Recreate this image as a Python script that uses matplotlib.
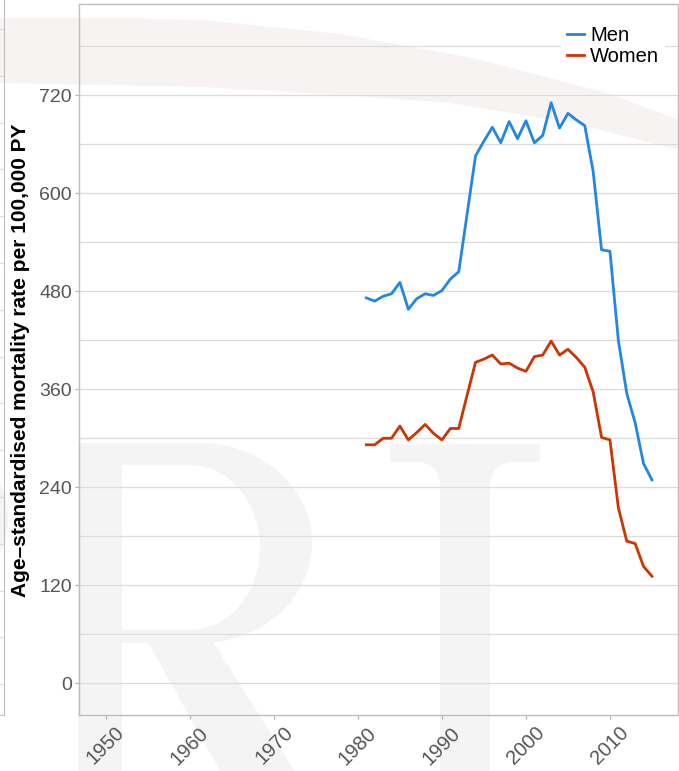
import numpy as np
import matplotlib.pyplot as plt
from matplotlib.patches import Polygon, Ellipse

plt.rcParams['font.family'] = ['Liberation Sans', 'DejaVu Sans']

# data
years = list(range(1981, 2016))
men = [472, 468, 474, 477, 491, 458, 471, 477, 475, 481,
       495, 504, 575, 646, 664, 681, 662, 688, 667, 689,
       662, 671, 711, 680, 698, 690, 683, 627, 531, 529,
       420, 355, 319, 269, 249]
women = [292, 292, 300, 300, 315, 298, 307, 317, 306, 298,
         312, 312, 353, 393, 397, 402, 391, 392, 386, 382,
         400, 402, 419, 402, 409, 399, 387, 357, 301, 298,
         215, 174, 171, 143, 131]
series = ['Men', 'Women']
colors = ['#2186e6', '#cc3402']
xticks = [1950, 1960, 1970, 1980, 1990, 2000, 2010]
yticks = [0, 120, 240, 360, 480, 600, 720]
ylabel = 'Age\u2013standardised mortality rate per 100,000 PY'

W, H = 679, 771
fig = plt.figure(figsize=(W / 100, H / 100), dpi=100)


def fpx(pts):
    # pixel coords (top-left origin) -> figure fraction
    return [(x / W, 1 - y / H) for x, y in pts]


def shape(pts, fc, z=-10):
    fig.patches.append(Polygon(fpx(pts), closed=True, transform=fig.transFigure,
                               fc=fc, ec='none', zorder=z))


def arc(cx, cy, rx, ry, a0, a1, n=40):
    t = np.radians(np.linspace(a0, a1, n))
    return list(zip(cx + rx * np.cos(t), cy - ry * np.sin(t)))


# background watermark: pink arc band
upper = [(0, 18), (130, 18), (200, 20), (340, 34), (473, 58), (607, 93), (679, 120)]
lower = [(679, 150), (573, 123), (450, 103), (340, 95), (200, 87), (0, 83)]
shape(upper + lower, '#f7f3f3')

# watermark letters "RT"
wm = '#f3f4f3'
shape([(78, 443), (122, 443), (122, 780), (78, 780)], wm)
shape([(100, 443), (200, 443)] + arc(200, 543, 112, 100, 90, -90) + [(100, 643)], wm)
shape([(122, 465), (190, 465)] + arc(190, 547.5, 70, 82.5, 90, -90) + [(122, 630)], 'white', -9)
shape([(143, 633), (212, 640), (300, 780), (225, 780)], wm, -8)
shape([(390, 444), (540, 444), (540, 462), (390, 462)], wm)
shape([(440, 462), (490, 462), (490, 780), (440, 780)], wm)
shape([(440, 462)] + arc(417, 484, 23, 22, 90, 0, 20), wm)
shape([(490, 462)] + arc(513, 484, 23, 22, 90, 180, 20), wm)
fig.patches.append(Ellipse((-60 / W, 1 - 518 / H), 136 / W, 150 / H,
                           transform=fig.transFigure, fc=wm, ec='none', zorder=-10))
fig.patches.append(Ellipse((-60 / W, 1 - 518 / H), 116 / W, 120 / H,
                           transform=fig.transFigure, fc='white', ec='none', zorder=-9))

spine_c = '#bdbdbd'
grid_c = '#dcdcdc'

# neighbouring panel, cut off at the left edge
ax0 = fig.add_axes([-60 / W, 1 - 715 / H, 64 / W, 730 / H])
ax0.patch.set_alpha(0)
ax0.set_ylim(715, -15)
ax0.set_xlim(0, 1)
for k in range(15):
    ax0.axhline(29 + 46.8 * k, color=grid_c, lw=0.9)
for s in ['top', 'left']:
    ax0.spines[s].set_visible(False)
for s in ['right', 'bottom']:
    ax0.spines[s].set_color(spine_c)
ax0.set_xticks([])
ax0.set_yticks([])

# main panel
ax = fig.add_axes([79 / W, 1 - 715 / H, 599 / W, 711 / H])
ax.patch.set_alpha(0)
for name, vals, c in zip(series, [men, women], colors):
    ax.plot(years, vals, color=c, lw=2.0, label=name)

ax.set_xlim(1946.8, 2018.1)
ax.set_ylim(-39, 832)
ax.set_xticks(xticks)
ax.set_xticklabels([str(v) for v in xticks], rotation=45, ha='center', va='top')
ax.set_yticks(yticks)
ax.set_yticks(np.arange(60, 840, 120), minor=True)
ax.grid(axis='y', which='both', color=grid_c, lw=0.9)
ax.set_axisbelow(True)
ax.tick_params(axis='both', which='major', colors='#b0b0b0', labelcolor='#555555',
               labelsize=14, length=3, width=0.8)
ax.tick_params(axis='x', labelsize=14.5, pad=3)
ax.tick_params(axis='y', pad=2)
ax.tick_params(which='minor', length=0)
for s in ax.spines.values():
    s.set_color(spine_c)
    s.set_linewidth(1)

fig.text(21 / W, 1 - 360 / H, ylabel, rotation=90, ha='center', va='center',
         fontsize=15, fontweight='bold', color='black')

leg = ax.legend(loc='upper left', bbox_to_anchor=(561 / W, 1 - 20 / H),
                bbox_transform=fig.transFigure, frameon=True, fontsize=14.5,
                handlelength=0.85, handletextpad=0.3, labelspacing=0.12,
                borderpad=0.3, borderaxespad=0, fancybox=False)
leg.get_frame().set_facecolor('white')
leg.get_frame().set_edgecolor('none')
leg.get_frame().set_alpha(1)

fig.savefig('out.png', dpi=100)
